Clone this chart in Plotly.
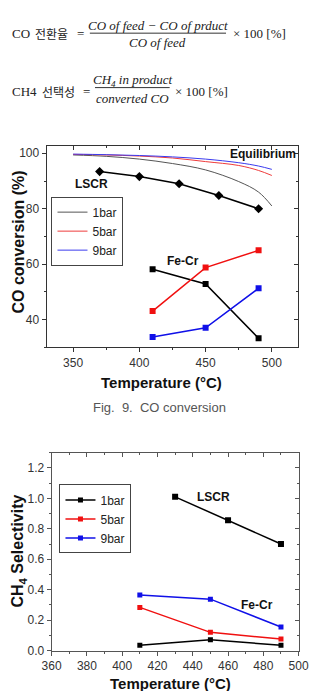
import plotly.graph_objects as go

W, H = 329, 691

# ---------------- data ----------------
# Fig 9: CO conversion
eq_T = [350, 375, 400, 425, 450, 475, 490, 500]
eq_1bar = [99.4, 98.9, 97.9, 96.3, 94.0, 89.8, 86.0, 81.0]
eq_5bar = [99.6, 99.4, 99.0, 98.3, 97.0, 95.6, 93.8, 92.0]
eq_9bar = [99.7, 99.5, 99.2, 98.7, 97.9, 96.6, 95.4, 94.2]

lscr_T = [370, 400, 430, 460, 490]
lscr_conv_1bar = [93.4, 91.6, 89.0, 84.8, 80.0]

fecr_T = [410, 450, 490]
fecr_conv_1bar = [58.2, 52.9, 33.3]
fecr_conv_5bar = [43.1, 58.8, 65.0]
fecr_conv_9bar = [33.8, 37.1, 51.3]

# CH4 selectivity
lscr_sel_T = [430, 460, 490]
lscr_sel_1bar = [1.01, 0.856, 0.70]
fecr_sel_1bar = [0.035, 0.072, 0.035]
fecr_sel_5bar = [0.284, 0.12, 0.076]
fecr_sel_9bar = [0.365, 0.338, 0.155]

legend_names = ["1bar", "5bar", "9bar"]

# ---------------- helpers ----------------
def px_x(p):
    return p / W

def px_y(p):
    return 1 - p / H

BLACK = "#000000"
RED = "#f01010"
BLUE = "#1010e8"
TICKC = "#333333"
AXC1 = "#333333"
AXC2 = "#555555"

fig = go.Figure()

# Chart 1 - equilibrium curves (legend 1)
for ys, c, n in [(eq_1bar, "#555555", legend_names[0]),
                 (eq_5bar, "#ee3b3b", legend_names[1]),
                 (eq_9bar, "#3b3bee", legend_names[2])]:
    fig.add_trace(go.Scatter(x=eq_T, y=ys, mode="lines", name=n,
                             line=dict(color=c, width=1, shape="spline"),
                             xaxis="x", yaxis="y", legend="legend"))

fig.add_trace(go.Scatter(x=lscr_T, y=lscr_conv_1bar, mode="lines+markers",
                         line=dict(color=BLACK, width=1.5),
                         marker=dict(symbol="diamond", size=7, color=BLACK),
                         showlegend=False, xaxis="x", yaxis="y"))
for ys, c in [(fecr_conv_1bar, BLACK), (fecr_conv_5bar, RED), (fecr_conv_9bar, BLUE)]:
    fig.add_trace(go.Scatter(x=fecr_T, y=ys, mode="lines+markers",
                             line=dict(color=c, width=1.5),
                             marker=dict(symbol="square", size=6, color=c),
                             showlegend=False, xaxis="x", yaxis="y"))

# Chart 2 - selectivity
fig.add_trace(go.Scatter(x=lscr_sel_T, y=lscr_sel_1bar, mode="lines+markers",
                         line=dict(color=BLACK, width=1.5),
                         marker=dict(symbol="square", size=6, color=BLACK),
                         showlegend=False, xaxis="x2", yaxis="y2"))
for ys, c, n in [(fecr_sel_1bar, BLACK, legend_names[0]),
                 (fecr_sel_5bar, RED, legend_names[1]),
                 (fecr_sel_9bar, BLUE, legend_names[2])]:
    fig.add_trace(go.Scatter(x=fecr_T, y=ys, mode="lines+markers", name=n,
                             line=dict(color=c, width=1.5),
                             marker=dict(symbol="square", size=5, color=c),
                             xaxis="x2", yaxis="y2", legend="legend2"))

# dummy traces so mirror axes are drawn
for xa, ya in [("x3", "y3"), ("x4", "y4")]:
    fig.add_trace(go.Scatter(x=[None], y=[None], xaxis=xa, yaxis=ya,
                             showlegend=False, hoverinfo="skip"))

dom1x = [px_x(39), px_x(307)]
dom1y = [px_y(351), px_y(147)]
dom2x = [px_x(44.3), px_x(307.3)]
dom2y = [px_y(657.3), px_y(457.3)]

tickfont = dict(family="Liberation Sans, Arial", size=12, color=TICKC)

def base_axis(dom, rng, dtick, tick0, minor_dtick, linecolor, **kw):
    d = dict(domain=dom, range=rng, dtick=dtick, tick0=tick0,
             showline=True, linecolor=linecolor, linewidth=1,
             ticks="outside", ticklen=4, tickwidth=1, tickcolor=linecolor,
             minor=dict(dtick=minor_dtick, ticks="outside", ticklen=2,
                        tickcolor=linecolor, showgrid=False),
             showgrid=False, zeroline=False, tickfont=tickfont, fixedrange=True)
    d.update(kw)
    return d

def mirror_axis(base, side, over):
    d = dict(base)
    d.update(dict(overlaying=over, side=side, ticks="inside",
                  showticklabels=False,
                  minor=dict(dtick=base["minor"]["dtick"], ticks="inside",
                             ticklen=2, tickcolor=base["linecolor"], showgrid=False)))
    d.pop("domain", None)
    return d

x1 = base_axis(dom1x, [330, 520], 50, 350, 25, AXC1, anchor="y")
y1 = base_axis(dom1y, [30, 102.8], 20, 0, 10, AXC1, anchor="x")
x2 = base_axis(dom2x, [360, 500], 20, 360, 10, AXC2, anchor="y2")
y2 = base_axis(dom2y, [0, 1.3], 0.2, 0, 0.1, AXC2, anchor="x2", tickformat=".1f")

x3 = mirror_axis(x1, "top", "x"); x3["anchor"] = "y"
y3 = mirror_axis(y1, "right", "y"); y3["anchor"] = "x"
x4 = mirror_axis(x2, "top", "x2"); x4["anchor"] = "y2"
y4 = mirror_axis(y2, "right", "y2"); y4["anchor"] = "x2"

legfont = dict(family="Liberation Sans, Arial", size=12, color="#222222")

fig.update_layout(
    width=W, height=H, margin=dict(l=0, r=0, t=0, b=0),
    paper_bgcolor="white", plot_bgcolor="white",
    xaxis=x1, yaxis=y1, xaxis2=x2, yaxis2=y2,
    xaxis3=x3, yaxis3=y3, xaxis4=x4, yaxis4=y4,
    legend=dict(x=px_x(82.5), y=px_y(233.5), xanchor="center", yanchor="middle",
                bgcolor="white", bordercolor="#444444", borderwidth=1,
                font=legfont, itemwidth=30, tracegroupgap=0),
    legend2=dict(x=px_x(91), y=px_y(524.2), xanchor="center", yanchor="middle",
                 bgcolor="white", bordercolor="#444444", borderwidth=1,
                 font=legfont, itemwidth=30, tracegroupgap=0),
    hovermode=False,
)

ann = []
bold = dict(family="Liberation Sans, Arial", size=12, color="#111111")

# in-plot labels
ann.append(dict(x=493.5, y=99.6, xref="x", yref="y", text="<b>Equilibrium</b>",
                showarrow=False, font=bold))
ann.append(dict(x=363.8, y=88.8, xref="x", yref="y", text="<b>LSCR</b>",
                showarrow=False, font=bold))
ann.append(dict(x=432.8, y=61.3, xref="x", yref="y", text="<b>Fe-Cr</b>",
                showarrow=False, font=bold))
ann.append(dict(x=451.8, y=1.012, xref="x2", yref="y2", text="<b>LSCR</b>",
                showarrow=False, font=bold))
ann.append(dict(x=476.6, y=0.302, xref="x2", yref="y2", text="<b>Fe-Cr</b>",
                showarrow=False, font=bold))

title_font = dict(family="Liberation Sans, Arial", size=15, color="#111111")
ytitle_font = dict(family="Liberation Sans, Arial", size=16, color="#111111")

ann.append(dict(x=px_x(161), y=px_y(386.5), xref="paper", yref="paper",
                text="<b>Temperature (°C)</b>", showarrow=False, font=title_font,
                xanchor="center", yanchor="middle"))
ann.append(dict(x=px_x(9), y=px_y(244.5), xref="paper", yref="paper",
                text="<b>CO conversion (%)</b>", showarrow=False, font=ytitle_font,
                textangle=-90, xanchor="center", yanchor="middle"))
ann.append(dict(x=px_x(171), y=px_y(691), xref="paper", yref="paper",
                text="<b>Temperature (°C)</b>", showarrow=False, font=title_font,
                xanchor="center", yanchor="top", yshift=11))
ann.append(dict(x=px_x(9), y=px_y(556.7), xref="paper", yref="paper",
                text="<b>CH<sub>4</sub> Selectivity</b>", showarrow=False,
                font=ytitle_font, textangle=-90, xanchor="center", yanchor="middle"))

# caption
ann.append(dict(x=px_x(159), y=px_y(412), xref="paper", yref="paper",
                text="Fig.\u00a0 9.\u00a0 CO conversion", showarrow=False,
                font=dict(family="Liberation Sans, Arial", size=13, color="#555555"),
                xanchor="center", yanchor="middle"))

# formulas
serif = dict(family="Liberation Serif, Noto Sans CJK KR", size=13, color="#222222")
kr = dict(family="Noto Sans CJK KR", size=12, color="#222222")

def tx(x, y, t, f, xa="left"):
    ann.append(dict(x=px_x(x), y=px_y(y), xref="paper", yref="paper", text=t,
                    showarrow=False, font=f, xanchor=xa, yanchor="middle"))

tx(0, 34, "CO", serif)
tx(25, 34, "전환율", kr)
tx(69, 34, "=", serif)
tx(157.5, 26, "<i>CO of feed − CO of prduct</i>", serif, "center")
tx(157.5, 42.5, "<i>CO of feed</i>", serif, "center")
tx(235, 34, "× 100 [%]", serif)

tx(0, 92, "CH4", serif)
tx(32, 92, "선택성", kr)
tx(76, 92, "=", serif)
tx(130.5, 81.5, "<i>CH<sub>4</sub> in product</i>", serif, "center")
tx(130.5, 100, "<i>converted CO</i>", serif, "center")
tx(174, 92, "× 100 [%]", serif)

fig.update_layout(annotations=ann)

fig.add_shape(type="line", xref="paper", yref="paper",
              x0=px_x(85), x1=px_x(230), y0=px_y(33.5), y1=px_y(33.5),
              line=dict(color="#333333", width=1))
fig.add_shape(type="line", xref="paper", yref="paper",
              x0=px_x(90.5), x1=px_x(170), y0=px_y(88.5), y1=px_y(88.5),
              line=dict(color="#333333", width=1))

fig.write_html("out.html", config=dict(displayModeBar=False, staticPlot=True))
